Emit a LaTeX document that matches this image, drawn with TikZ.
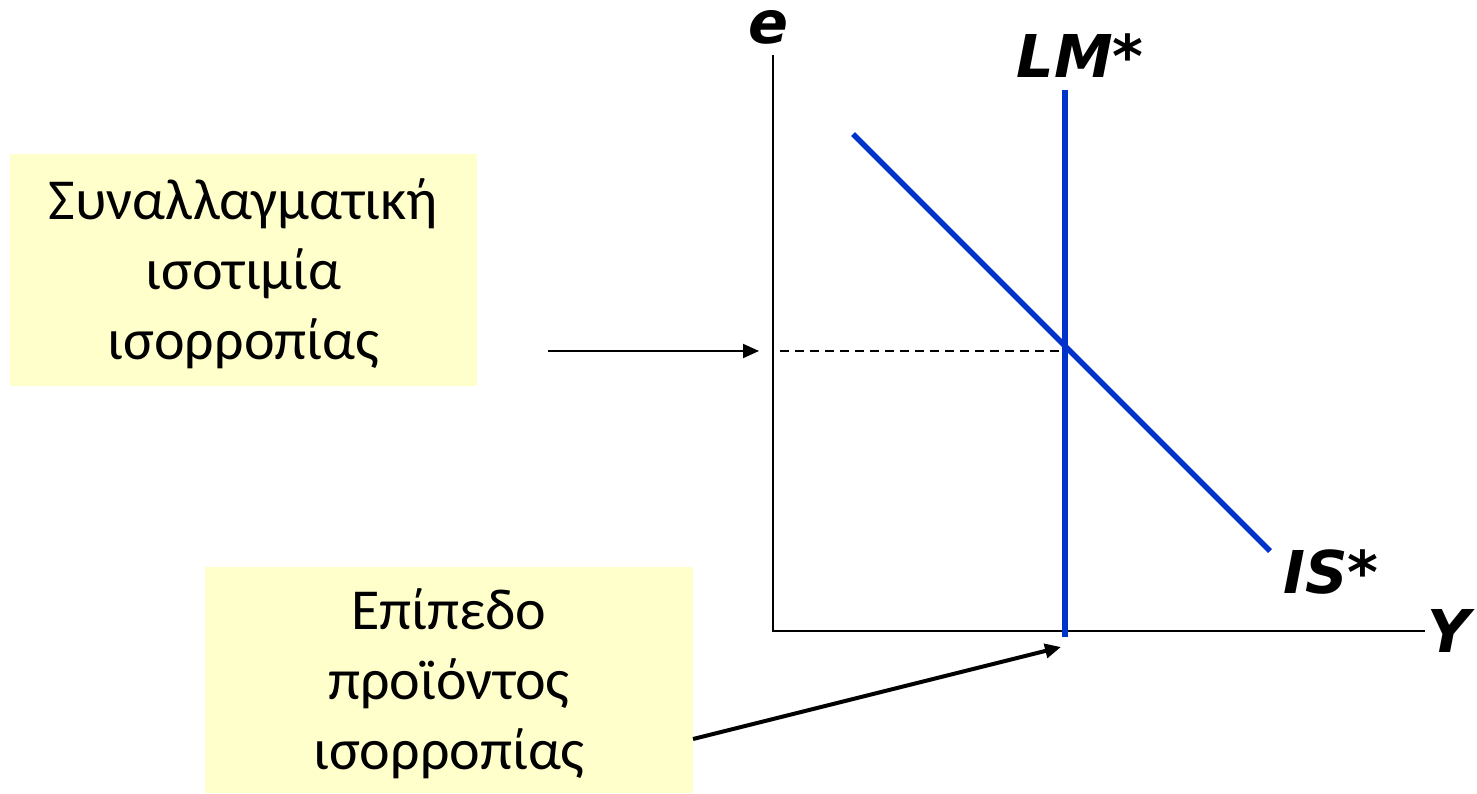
\documentclass[tikz,border=0pt]{standalone}
\usepackage{fontspec}
\setmainfont{Carlito}
\newfontfamily\lblfont{DejaVu Sans}
\usetikzlibrary{arrows.meta}
\definecolor{boxyellow}{HTML}{FFFFCC}
\definecolor{curveblue}{HTML}{0033CC}
\tikzset{
  box/.style={fill=boxyellow, draw=none, align=center, inner sep=0pt,
    font=\fontsize{58}{70}\selectfont},
  axislbl/.style={font=\lblfont\bfseries\itshape\fontsize{59}{60}\selectfont, inner sep=0pt},
  axisline/.style={line width=2pt},
  curve/.style={line width=5.5pt, curveblue},
  pointer/.style={-{Triangle[length=16pt,width=14pt]}},
}
\begin{document}
\begin{tikzpicture}[x=1pt,y=-1pt]
\useasboundingbox (0,0) rectangle (1477,794);
% boxes
\node[box, minimum width=467pt, minimum height=232pt] (b1) at (243.5,270) {};
\node[align=center, inner sep=0pt, font=\fontsize{58}{70}\selectfont] (t1) at (b1.center) [yshift=-4pt] {Συναλλαγματική\\ισοτιμία\\ισορροπίας};
\node[box, minimum width=488pt, minimum height=226pt] (b2) at (449,680) {};
\node[align=center, inner sep=0pt, font=\fontsize{58}{70}\selectfont] (t2) at (b2.center) [yshift=-4pt] {Επίπεδο\\προϊόντος\\ισορροπίας};
% axes
\coordinate (O) at (773,631);
\coordinate (ytop) at (773,55);
\coordinate (xend) at (1425,631);
\draw[axisline] (ytop) -- (O) -- (xend);
\node[axislbl] (elbl) at (768,27) {e};
\node[axislbl] (ylbl) at (1449,631) {Y};
% curves
\coordinate (lmtop) at (1065,90);
\coordinate (lmbot) at (1065,637);
\draw[curve] (lmtop) -- (lmbot);
\node[axislbl] (lmlbl) at (1080,56) {LM*};
\coordinate (istop) at (853,134);
\coordinate (isbot) at (1270,551);
\draw[curve] (istop) -- (isbot);
\node[axislbl] (islbl) at (1331,572) {IS*};
% equilibrium
\coordinate (eq) at (1065,351);
\coordinate (eaxis) at (780,351);
\draw[line width=1.5pt, dash pattern=on 9pt off 6pt] (eaxis) -- (eq);
% pointers
\coordinate (p1s) at (548,351);
\coordinate (p1e) at (759,351);
\draw[pointer, line width=2pt] (p1s) -- (p1e);
\coordinate (p2s) at (693,739);
\coordinate (p2e) at (1061,647);
\draw[pointer, line width=4pt] (p2s) -- (p2e);
\end{tikzpicture}
\end{document}
